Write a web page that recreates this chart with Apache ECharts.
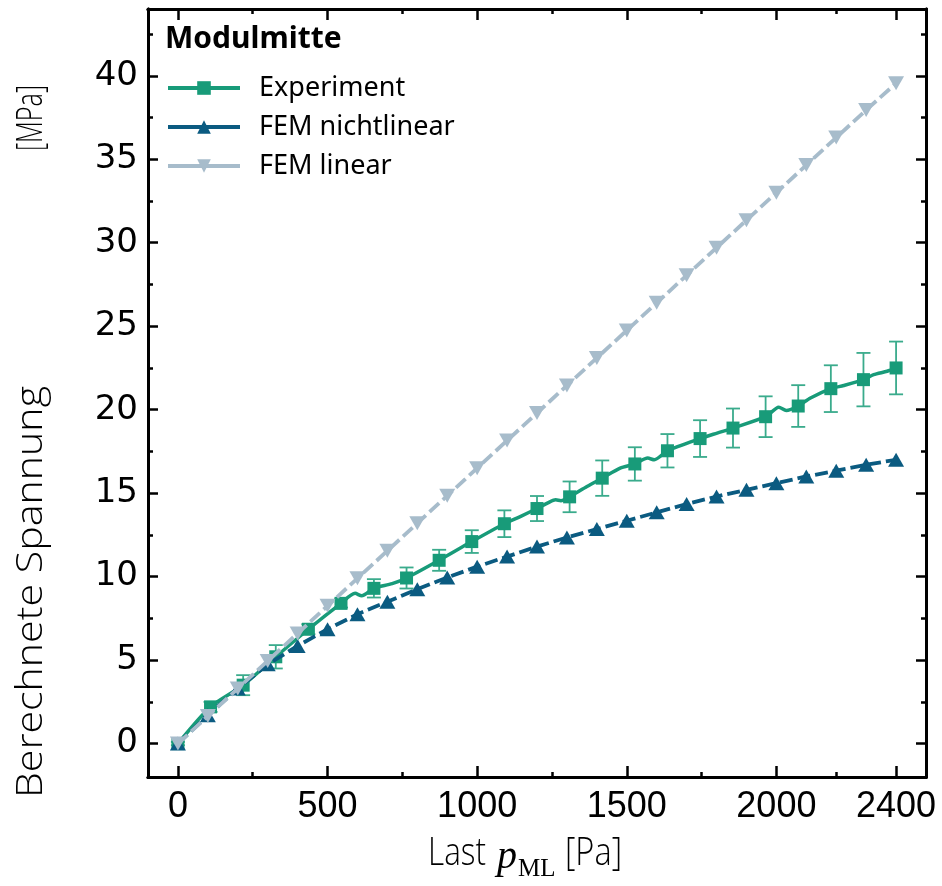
<!DOCTYPE html>
<html>
<head>
<meta charset="utf-8">
<script src="https://cdn.jsdelivr.net/npm/echarts@6/dist/echarts.min.js"></script>
<style>
html,body{margin:0;padding:0;background:#fff;}
#chart{width:942px;height:886px;}
</style>
</head>
<body>
<div id="chart"></div>
<script>
// ---- data ----
const femX = [0,100,200,300,400,500,600,700,800,900,1000,1100,1200,1300,1400,1500,1600,1700,1800,1900,2000,2100,2200,2300,2400];
const femNonlinear = [0,1.7,3.3,4.75,5.85,6.85,7.75,8.5,9.25,9.95,10.6,11.2,11.8,12.35,12.85,13.35,13.85,14.35,14.8,15.2,15.6,16.0,16.35,16.7,17.0];
const femLinear = [0,1.65,3.3,4.95,6.6,8.25,9.9,11.55,13.2,14.85,16.5,18.15,19.8,21.45,23.1,24.75,26.4,28.05,29.7,31.35,33.0,34.65,36.3,37.95,39.55];
const expX = [0,109,218,327,436,545,655,764,873,982,1091,1200,1309,1418,1527,1636,1745,1855,1964,2073,2182,2291,2400];
const expY = [0,2.2,3.5,5.2,6.85,8.4,9.3,9.92,10.98,12.1,13.17,14.08,14.78,15.9,16.75,17.54,18.27,18.9,19.58,20.22,21.26,21.8,22.5];
const expErr = [0.1,0.3,0.6,0.7,0.3,0.25,0.55,0.63,0.63,0.68,0.8,0.75,0.92,1.06,1.0,1.0,1.1,1.17,1.22,1.25,1.4,1.6,1.58];
const expWiggleX = [592,614,716,1144,1240,1262,1280,1367,1478,1570,1592,1802,2008,2033,2114,2225,2325,2370];
const expWiggleY = [9.0,8.85,9.58,13.6,14.45,14.6,14.55,15.4,16.5,17.1,17.0,18.6,20.15,19.95,20.7,21.45,22.1,22.3];
const xMajorTicks = [0,500,1000,1500,2000,2400];
const xMinorTicks = [250,750,1250,1750,2200];
const yMajorTicks = [0,5,10,15,20,25,30,35,40];
const yMinorTicks = [2.5,7.5,12.5,17.5,22.5,27.5,32.5,37.5,42.5];
const seriesNames = ['Experiment','FEM nichtlinear','FEM linear'];

// ---- colours / styles ----
const cGreen = '#189b79', cGreenErr = '#3aab8c', cBlue = '#0b5b81', cGray = '#a7bccb';
const titleFont = '350 37px "Open Sans", "DejaVu Sans Condensed", sans-serif';
const titleFontX = '350 38px "Open Sans", "DejaVu Sans Condensed", sans-serif';

// horizontal compression of the axis-title texts so their lengths match the reference
const mctx = document.createElement('canvas').getContext('2d');
function textW(text, font){ mctx.font = font; return mctx.measureText(text).width; }
const sYTitle = 412 / textW('Berechnete Spannung', titleFont);
const sYUnit = 66 / textW('[MPa]', titleFont);
const sXLast = 58 / textW('Last', titleFontX);
const sXUnit = 57 / textW('[Pa]', titleFontX);

const expPoints = expX.map((x,i)=>({value:[x, expY[i]]}));
const wigPoints = expWiggleX.map((x,i)=>({value:[x, expWiggleY[i]], symbol:'none'}));
const expLineData = expPoints.concat(wigPoints).sort((a,b)=>a.value[0]-b.value[0]);

function xAxisDef(pos, ticks, len, labels){
  return {
    type:'value', position:pos, min:-100, max:2500,
    axisLine:{show:true, onZero:false, lineStyle:{color:'#000', width:3}},
    axisTick:{show:true, inside:true, length:len, customValues:ticks, lineStyle:{color:'#000', width:2.5}},
    axisLabel:{show:labels, customValues:ticks, formatter:v=>String(v), fontFamily:'"Liberation Sans", Arial, sans-serif', fontSize:36, color:'#000', margin:12},
    splitLine:{show:false}
  };
}
function yAxisDef(pos, ticks, len, labels){
  return {
    type:'value', position:pos, min:-2, max:44,
    axisLine:{show:true, onZero:false, lineStyle:{color:'#000', width:3}},
    axisTick:{show:true, inside:true, length:len, customValues:ticks, lineStyle:{color:'#000', width:2.5}},
    axisLabel:{show:labels, customValues:ticks, formatter:v=>String(v), fontFamily:'"DejaVu Sans", sans-serif', fontSize:34, color:'#000', margin:10},
    splitLine:{show:false}
  };
}

const chart = echarts.init(document.getElementById('chart'), null, {renderer:'canvas'});
chart.setOption({
  animation:false,
  backgroundColor:'#fff',
  grid:{left:148, right:16, top:9, bottom:109, containLabel:false},
  xAxis:[
    xAxisDef('bottom', xMajorTicks, 11, true),
    xAxisDef('bottom', xMinorTicks, 5, false),
    xAxisDef('top', xMajorTicks, 11, false),
    xAxisDef('top', xMinorTicks, 5, false)
  ],
  yAxis:[
    yAxisDef('left', yMajorTicks, 10, true),
    yAxisDef('left', yMinorTicks, 5, false),
    yAxisDef('right', yMajorTicks, 10, false),
    yAxisDef('right', yMinorTicks, 5, false)
  ],
  title:{
    text:'Modulmitte', left:165, top:24, padding:0,
    textStyle:{fontFamily:'"Noto Sans", sans-serif', fontWeight:'bold', fontSize:30, color:'#000'}
  },
  legend:{
    data:seriesNames, orient:'vertical', left:166, top:73, padding:0,
    itemWidth:72, itemHeight:17, itemGap:9,
    lineStyle:{type:'solid', width:4},
    textStyle:{fontFamily:'"Noto Sans", sans-serif', fontSize:27, color:'#000', lineHeight:30, padding:[0,0,0,14]}
  },
  graphic:[
    {type:'text', x:31, y:592, rotation:Math.PI/2, scaleX:sYTitle,
     style:{text:'Berechnete Spannung', align:'center', verticalAlign:'middle', fill:'#000', font:titleFont}},
    {type:'text', x:31, y:118, rotation:Math.PI/2, scaleX:sYUnit,
     style:{text:'[MPa]', align:'center', verticalAlign:'middle', fill:'#000', font:titleFont}},
    {type:'text', x:428, y:854, scaleX:sXLast,
     style:{text:'Last', align:'left', verticalAlign:'middle', fill:'#000', font:titleFontX}},
    {type:'text', x:497, y:857,
     style:{text:'p', align:'left', verticalAlign:'middle', fill:'#000', font:'italic 40px "Liberation Serif", serif'}},
    {type:'text', x:518, y:869,
     style:{text:'ML', align:'left', verticalAlign:'middle', fill:'#000', font:'25px "Liberation Serif", serif'}},
    {type:'text', x:565, y:854, scaleX:sXUnit,
     style:{text:'[Pa]', align:'left', verticalAlign:'middle', fill:'#000', font:titleFontX}}
  ],
  series:[
    {
      type:'custom', silent:true, z:2,
      xAxisIndex:0, yAxisIndex:0,
      data: expX.map((x,i)=>[x, expY[i]-expErr[i], expY[i]+expErr[i]]),
      encode:{x:0, y:[1,2]},
      renderItem:function(params, api){
        const lo = api.coord([api.value(0), api.value(1)]);
        const hi = api.coord([api.value(0), api.value(2)]);
        const w = 7;
        const st = {stroke:cGreenErr, lineWidth:1.8, fill:null};
        return {type:'group', children:[
          {type:'line', shape:{x1:lo[0], y1:lo[1], x2:hi[0], y2:hi[1]}, style:st},
          {type:'line', shape:{x1:lo[0]-w, y1:lo[1], x2:lo[0]+w, y2:lo[1]}, style:st},
          {type:'line', shape:{x1:hi[0]-w, y1:hi[1], x2:hi[0]+w, y2:hi[1]}, style:st}
        ]};
      }
    },
    {
      name:'Experiment', type:'line', z:3,
      xAxisIndex:0, yAxisIndex:0,
      data:expLineData, smooth:0.25,
      symbol:'rect', symbolSize:13, showAllSymbol:true,
      lineStyle:{color:cGreen, width:3.5},
      itemStyle:{color:cGreen}
    },
    {
      name:'FEM nichtlinear', type:'line', z:4,
      xAxisIndex:0, yAxisIndex:0,
      data:femX.map((x,i)=>[x, femNonlinear[i]]),
      symbol:'triangle', symbolSize:[16,14], showAllSymbol:true,
      lineStyle:{color:cBlue, width:3.8, type:[13,5]},
      itemStyle:{color:cBlue}
    },
    {
      name:'FEM linear', type:'line', z:5,
      xAxisIndex:0, yAxisIndex:0,
      data:femX.map((x,i)=>[x, femLinear[i]]),
      symbol:'triangle', symbolRotate:180, symbolSize:[16,14], showAllSymbol:true,
      lineStyle:{color:cGray, width:3.8, type:[13,5]},
      itemStyle:{color:cGray}
    }
  ]
});
</script>
</body>
</html>
